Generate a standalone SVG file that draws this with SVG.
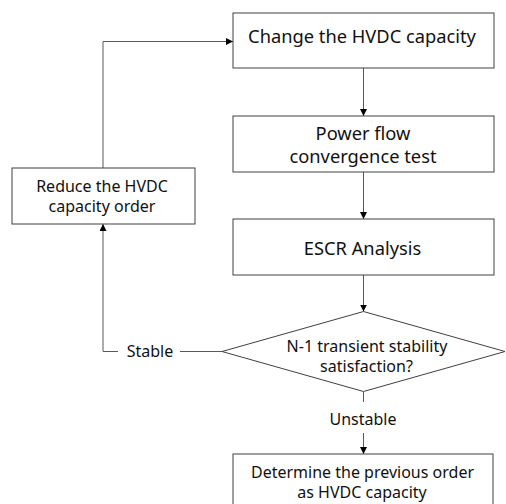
<svg xmlns="http://www.w3.org/2000/svg" width="506" height="504" viewBox="0 0 506 504">
<defs>
<style>
.box{fill:#fff;stroke:#404040;stroke-width:1}
.t{font-family:"Noto Sans","Liberation Sans",sans-serif;fill:#111;text-anchor:middle}
.big{font-size:18.3px}
.sm{font-size:16px}
.c{fill:none;stroke:#595959;stroke-width:1}
</style>
<marker id="ah" viewBox="0 0 10 10" refX="10" refY="5" markerWidth="7" markerHeight="7" markerUnits="userSpaceOnUse" orient="auto">
<path d="M0,0 L10,5 L0,10 z" fill="#000"/>
</marker>
</defs>
<rect width="506" height="504" fill="#fff"/>
<g id="connectors">
<path class="c" d="M363.5,68 V116" marker-end="url(#ah)"/>
<path class="c" d="M363.5,172 V219" marker-end="url(#ah)"/>
<path class="c" d="M363.5,275 V311.5" marker-end="url(#ah)"/>
<path class="c" d="M363.5,392 V402"/>
<path class="c" d="M363.5,433 V454" marker-end="url(#ah)"/>
<path class="c" d="M180,351.5 H222"/>
<path class="c" d="M118,351.5 H103 V224" marker-end="url(#ah)"/>
<path class="c" d="M103,168 V41.5 H233" marker-end="url(#ah)"/>
<text class="t sm" x="150" y="357">Stable</text>
<text class="t sm" x="363" y="425">Unstable</text>
</g>
<g id="change">
<rect class="box" x="233" y="13" width="261" height="55"/>
<text class="t big" x="362" y="43">Change the HVDC capacity</text>
</g>
<g id="powerflow">
<rect class="box" x="233" y="116" width="261" height="56"/>
<text class="t big" x="363" y="140">Power flow</text>
<text class="t big" x="363" y="163">convergence test</text>
</g>
<g id="escr">
<rect class="box" x="233" y="219" width="261" height="56"/>
<text class="t big" x="362.5" y="255">ESCR Analysis</text>
</g>
<g id="reduce">
<rect class="box" x="12" y="168" width="183" height="56"/>
<text class="t sm" x="102" y="192">Reduce the HVDC</text>
<text class="t sm" x="102" y="212">capacity order</text>
</g>
<g id="decision">
<polygon class="box" points="363.5,311.5 505,351.5 363.5,391.5 222,351.5"/>
<text class="t sm" x="367" y="352">N-1 transient stability</text>
<text class="t sm" x="366.5" y="372">satisfaction?</text>
</g>
<g id="determine">
<rect class="box" x="233" y="454" width="260" height="60"/>
<text class="t sm" x="362.5" y="478">Determine the previous order</text>
<text class="t sm" x="362" y="498">as HVDC capacity</text>
</g>
</svg>
